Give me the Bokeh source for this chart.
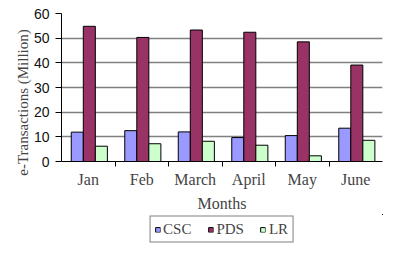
from bokeh.plotting import figure
from bokeh.models import ColumnDataSource, FixedTicker, Legend, LegendItem, Range1d
from bokeh.transform import dodge
from bokeh.layouts import column
from bokeh.embed import file_html
from bokeh.resources import INLINE

months = ["Jan", "Feb", "March", "April", "May", "June"]
csc = [11.9, 12.5, 12.0, 9.7, 10.5, 13.5]
pds = [54.8, 50.3, 53.3, 52.4, 48.5, 39.1]
lr = [6.2, 7.2, 8.2, 6.6, 2.3, 8.6]
series_names = ["CSC", "PDS", "LR"]
series_cols = ["csc", "pds", "lr"]
colors = ["#9999FF", "#993366", "#CCFFCC"]
y_ticks = [0, 10, 20, 30, 40, 50, 60]

idx = list(range(len(months)))
centers = [i + 0.5 for i in idx]
source = ColumnDataSource(dict(x=centers, csc=csc, pds=pds, lr=lr))

p = figure(width=391, height=214, output_backend="svg", toolbar_location=None,
           x_range=Range1d(0, len(months)), y_range=Range1d(0, 60),
           min_border_left=61, min_border_right=9, min_border_top=13, min_border_bottom=53)
p.outline_line_color = None
p.background_fill_color = "white"

bw = 0.225
for k, (col, c) in enumerate(zip(series_cols, colors)):
    p.vbar(x=dodge("x", (k - 1) * bw + 0.02, range=p.x_range), top=col, width=bw, bottom=0,
           source=source, fill_color=c, line_color="#000000", line_width=1)

p.yaxis.ticker = FixedTicker(ticks=y_ticks)
p.yaxis.minor_tick_line_color = None
p.yaxis.major_tick_out = 6
p.yaxis.major_tick_in = 0
p.yaxis.axis_line_color = "black"
p.yaxis.major_label_text_font = "Liberation Sans"
p.yaxis.major_label_text_font_size = "14px"
p.yaxis.major_label_text_color = "#111111"
p.yaxis.major_label_standoff = 6
p.yaxis.axis_label = "e-Transactions (Million)" + "\u00a0" * 8
p.yaxis.axis_label_text_font = "Liberation Serif"
p.yaxis.axis_label_text_font_style = "normal"
p.yaxis.axis_label_text_font_size = "15px"
p.yaxis.axis_label_standoff = 0

p.xaxis.ticker = FixedTicker(ticks=centers, minor_ticks=[1, 2, 3, 4, 5])
p.xaxis.major_label_overrides = {c: m for c, m in zip(centers, months)}
p.xaxis.major_tick_out = 0
p.xaxis.major_tick_in = 0
p.xaxis.minor_tick_out = 5
p.xaxis.minor_tick_in = 0
p.xaxis.minor_tick_line_color = "black"
p.xaxis.axis_line_color = "black"
p.xaxis.major_label_text_font = "Liberation Serif"
p.xaxis.major_label_text_font_size = "16px"
p.xaxis.major_label_standoff = 4
p.xaxis.axis_label = "Months"
p.xaxis.axis_label_text_font = "Liberation Serif"
p.xaxis.axis_label_text_font_style = "normal"
p.xaxis.axis_label_text_font_size = "16px"
p.xaxis.axis_label_standoff = 4

p.xgrid.grid_line_color = None
p.ygrid.ticker = FixedTicker(ticks=y_ticks)
p.ygrid.grid_line_color = "#808080"
p.ygrid.grid_line_width = 1.5

# legend strip below the chart (its bars lie far outside its visible ranges)
lf = figure(width=391, height=41, output_backend="svg", toolbar_location=None,
            x_range=Range1d(-20, -19), y_range=Range1d(-2, -1),
            min_border_left=61, min_border_right=9, min_border_top=0, min_border_bottom=11)
lf.axis.visible = False
lf.grid.visible = False
lf.outline_line_color = None
leg_renderers = []
for col, c in zip(series_cols, colors):
    leg_renderers.append(lf.vbar(x="x", top=col, bottom=0, width=bw, source=source,
                                 fill_color=c, line_color="#000000", line_width=1))

legend = Legend(items=[LegendItem(label=n, renderers=[r]) for n, r in zip(series_names, leg_renderers)],
                orientation="horizontal", location="center",
                border_line_color="black", border_line_width=1,
                label_text_font="Liberation Serif", label_text_font_size="15px",
                glyph_width=6, glyph_height=6, label_standoff=3, spacing=16,
                label_height=12, padding=4, margin=0, background_fill_alpha=1)
lf.add_layout(legend, "center")

layout = column(p, lf, spacing=0)
open("out.html", "w").write(file_html(layout, INLINE))
